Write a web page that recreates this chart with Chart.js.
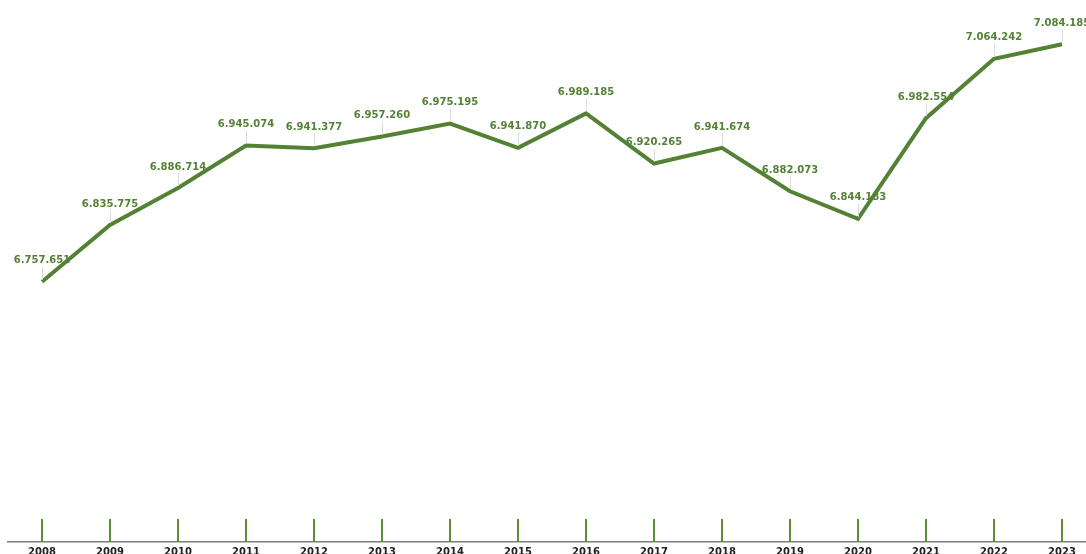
<!DOCTYPE html>
<html>
<head>
    <meta charset="UTF-8">
    <title>Line Chart</title>
    <style>
        html, body {
            margin: 0;
            padding: 0;
            overflow: hidden;
            background: #ffffff;
        }

        #wrap {
            position: relative;
            width: 1100px;
            height: 562px;
        }
    </style>
    <script src="https://cdn.jsdelivr.net/npm/chart.js"></script>
    <script>
        // chart data
        var years = ['2008', '2009', '2010', '2011', '2012', '2013', '2014', '2015',
                     '2016', '2017', '2018', '2019', '2020', '2021', '2022', '2023'];
        var values = [6757651, 6835775, 6886714, 6945074, 6941377, 6957260, 6975195, 6941870,
                      6989185, 6920265, 6941674, 6882073, 6844183, 6982554, 7064242, 7084185];
        var yMin = 6400000;
        var yMax = 7145000;

        var green = '#548235';

        function fmt(v) {
            return String(v).replace(/\B(?=(\d{3})+(?!\d))/g, '.');
        }

        // small green ticks above the axis + value labels with leader lines
        var decoPlugin = {
            id: 'deco',
            afterDatasetsDraw: function(chart) {
                var ctx = chart.ctx;
                var xs = chart.scales.x;
                var bottom = chart.chartArea.bottom;

                ctx.save();
                ctx.strokeStyle = '#5a8f32';
                ctx.lineWidth = 2;
                for (var i = 0; i < years.length; i++) {
                    var x = Math.round(xs.getPixelForValue(i));
                    ctx.beginPath();
                    ctx.moveTo(x, bottom - 23);
                    ctx.lineTo(x, bottom);
                    ctx.stroke();
                }

                var meta = chart.getDatasetMeta(0);
                ctx.font = 'bold 10px "DejaVu Sans"';
                ctx.textAlign = 'center';
                ctx.textBaseline = 'middle';
                for (var j = 0; j < meta.data.length; j++) {
                    var p = meta.data[j];
                    ctx.strokeStyle = '#dcdcdc';
                    ctx.lineWidth = 1;
                    ctx.beginPath();
                    ctx.moveTo(Math.round(p.x) + 0.5, p.y - 15);
                    ctx.lineTo(Math.round(p.x) + 0.5, p.y - 2);
                    ctx.stroke();
                    ctx.fillStyle = green;
                    ctx.fillText(fmt(values[j]), p.x, p.y - 21);
                }
                ctx.restore();
            }
        };

        window.onload = function() {
            var ctx = document.getElementById('line-chart').getContext('2d');
            new Chart(ctx, {
                type: 'line',
                data: {
                    labels: years,
                    datasets: [{
                        data: values,
                        borderColor: green,
                        borderWidth: 4,
                        pointRadius: 0,
                        tension: 0,
                        fill: false,
                        clip: false
                    }]
                },
                options: {
                    responsive: true,
                    maintainAspectRatio: false,
                    animation: false,
                    layout: {
                        padding: { left: 8, right: 4, top: 0, bottom: 0 }
                    },
                    plugins: {
                        legend: { display: false },
                        tooltip: { enabled: false }
                    },
                    scales: {
                        x: {
                            offset: true,
                            grid: { display: false, drawTicks: false, tickLength: 0 },
                            border: { display: true, color: '#7f7f7f', width: 1.5 },
                            ticks: {
                                color: '#222222',
                                padding: 4,
                                font: { family: 'DejaVu Sans', size: 10, weight: 'bold' }
                            }
                        },
                        y: {
                            display: false,
                            min: yMin,
                            max: yMax
                        }
                    }
                },
                plugins: [decoPlugin]
            });
        };
    </script>
</head>
<body>
<div id="wrap"><canvas id="line-chart"></canvas></div>
</body>
</html>
